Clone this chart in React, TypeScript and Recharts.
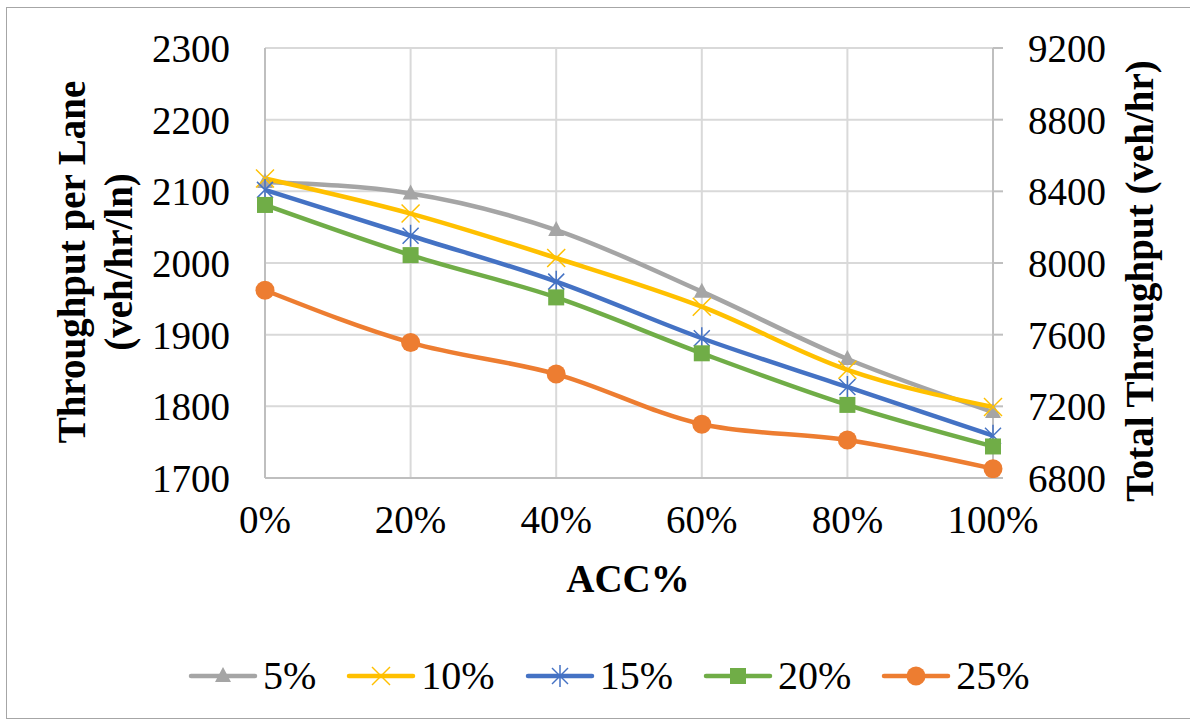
import React from 'react';
import { LineChart, Line, XAxis, YAxis, CartesianGrid } from 'recharts';

// ACC market penetration categories
const categories = ['0%', '20%', '40%', '60%', '80%', '100%'];

// throughput per lane (veh/hr/ln) for each series
const s5 = [2113, 2097, 2046, 1960, 1866, 1792];
const s10 = [2118, 2069, 2007, 1939, 1851, 1799];
const s15 = [2102, 2038, 1974, 1895, 1827, 1759];
const s20 = [2081, 2011, 1952, 1874, 1802, 1744];
const s25 = [1962, 1889, 1845, 1775, 1753, 1713];

const leftTicks = [1700, 1800, 1900, 2000, 2100, 2200, 2300];
const rightTicks = [6800, 7200, 7600, 8000, 8400, 8800, 9200];

const data = categories.map((c, i) => ({
  acc: c,
  p5: s5[i],
  p10: s10[i],
  p15: s15[i],
  p20: s20[i],
  p25: s25[i],
}));

const FONT = "'Liberation Serif', 'Times New Roman', serif";
const GRAY = '#a5a5a5';
const YELLOW = '#ffc000';
const BLUE = '#4472c4';
const GREEN = '#70ad47';
const ORANGE = '#ed7d31';

// marker shapes, Excel style
const Triangle = ({ cx, cy, color }: any) => (
  <polygon points={`${cx},${cy - 9} ${cx + 8},${cy + 6} ${cx - 8},${cy + 6}`} fill={color} />
);
const Cross = ({ cx, cy, color }: any) => (
  <g stroke={color} strokeWidth={1.5}>
    <line x1={cx - 9} y1={cy - 9} x2={cx + 9} y2={cy + 9} />
    <line x1={cx - 9} y1={cy + 9} x2={cx + 9} y2={cy - 9} />
  </g>
);
const Star = ({ cx, cy, color }: any) => (
  <g stroke={color} strokeWidth={1.5}>
    <line x1={cx - 8} y1={cy - 8} x2={cx + 8} y2={cy + 8} />
    <line x1={cx - 8} y1={cy + 8} x2={cx + 8} y2={cy - 8} />
    <line x1={cx} y1={cy - 11} x2={cx} y2={cy + 11} />
  </g>
);
const Square = ({ cx, cy, color }: any) => (
  <rect x={cx - 8} y={cy - 8} width={16} height={16} fill={color} />
);
const Circle = ({ cx, cy, color }: any) => <circle cx={cx} cy={cy} r={9.5} fill={color} />;

const series = [
  { key: 'p5', name: '5%', color: GRAY, Marker: Triangle },
  { key: 'p10', name: '10%', color: YELLOW, Marker: Cross },
  { key: 'p15', name: '15%', color: BLUE, Marker: Star },
  { key: 'p20', name: '20%', color: GREEN, Marker: Square },
  { key: 'p25', name: '25%', color: ORANGE, Marker: Circle },
];

const tickStyle = { fill: '#000', fontSize: 39, fontFamily: FONT };

const LegendRow = () => (
  <div
    style={{
      position: 'absolute',
      left: 188,
      top: 654,
      display: 'flex',
      alignItems: 'center',
      fontFamily: FONT,
      fontSize: 40,
      color: '#000',
    }}
  >
    {series.map((s) => (
      <div key={s.key} style={{ display: 'flex', alignItems: 'center', marginRight: 30 }}>
        <svg width={70} height={30}>
          <line x1={3} y1={15} x2={67} y2={15} stroke={s.color} strokeWidth={4.5} strokeLinecap="round" />
          <s.Marker cx={35} cy={15} color={s.color} />
        </svg>
        <span style={{ marginLeft: 5, lineHeight: '44px' }}>{s.name}</span>
      </div>
    ))}
  </div>
);

const LeftTitle = () => (
  <g fontFamily={FONT} fontSize={39} fontWeight="bold" fill="#000" textAnchor="middle">
    <text x={0} y={0} transform="translate(85,262) rotate(-90)">Throughput per Lane</text>
    <text x={0} y={0} transform="translate(132,262) rotate(-90)">(veh/hr/ln)</text>
  </g>
);

const RightTitle = () => (
  <text
    transform="translate(1153,281) rotate(-90)"
    textAnchor="middle"
    fontFamily={FONT}
    fontSize={39}
    fontWeight="bold"
    fill="#000"
  >
    Total Throughput (veh/hr)
  </text>
);

export default function App() {
  return (
    <div style={{ position: 'absolute', left: 0, top: 0, width: 1190, height: 721, background: '#fff' }}>
      <div
        style={{
          position: 'absolute',
          left: 6,
          top: 7,
          width: 1190,
          height: 710,
          border: '1px solid #a6a6a6',
        }}
      />
      <div style={{ position: 'absolute', left: 0, top: 0 }}>
        <LineChart width={1190} height={721} data={data} margin={{ top: 48, right: 97, left: 165, bottom: 183 }}>
          <CartesianGrid stroke="#d9d9d9" strokeWidth={2} yAxisId="left" />
          <XAxis
            dataKey="acc"
            tick={tickStyle}
            tickLine={false}
            tickSize={0}
            tickMargin={27}
            axisLine={{ stroke: '#bfbfbf', strokeWidth: 2 }}
            height={60}
            interval={0}
          />
          <YAxis
            yAxisId="left"
            domain={[1700, 2300]}
            ticks={leftTicks}
            tick={tickStyle}
            tickLine={false}
            tickSize={0}
            tickMargin={35}
            axisLine={{ stroke: '#bfbfbf', strokeWidth: 2 }}
            width={100}
            allowDataOverflow
          />
          <YAxis
            yAxisId="right"
            orientation="right"
            domain={[6800, 9200]}
            ticks={rightTicks}
            tick={tickStyle}
            tickLine={{ stroke: '#bfbfbf', strokeWidth: 2 }}
            tickSize={10}
            tickMargin={25}
            axisLine={{ stroke: '#bfbfbf', strokeWidth: 2 }}
            width={100}
            allowDataOverflow
          />
          {series.map((s) => (
            <Line
              key={s.key}
              yAxisId="left"
              type="monotone"
              dataKey={s.key}
              name={s.name}
              stroke={s.color}
              strokeWidth={4.5}
              dot={(p: any) => <s.Marker key={`${s.key}-${p.index}`} cx={p.cx} cy={p.cy} color={s.color} />}
              activeDot={false}
              isAnimationActive={false}
            />
          ))}
          <LeftTitle />
          <RightTitle />
          <text x={628} y={592} textAnchor="middle" fontFamily={FONT} fontSize={39} fontWeight="bold" fill="#000">
            ACC%
          </text>
        </LineChart>
      </div>
      <LegendRow />
    </div>
  );
}
